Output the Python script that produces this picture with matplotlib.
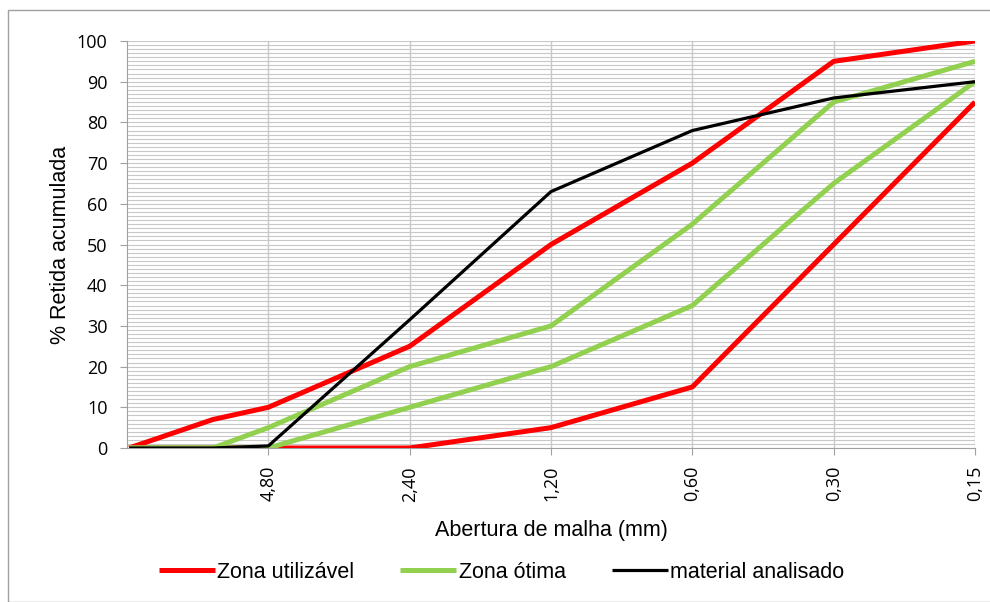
import matplotlib
matplotlib.use("Agg")
import matplotlib.pyplot as plt
from matplotlib.patches import Rectangle
from matplotlib.ticker import FixedLocator, MultipleLocator, NullLocator

sieves = [9.5, 6.3, 4.8, 2.4, 1.2, 0.6, 0.3, 0.15]
tick_values = [4.8, 2.4, 1.2, 0.6, 0.3, 0.15]
tick_labels = ["4,80", "2,40", "1,20", "0,60", "0,30", "0,15"]

util_lower = [0, 0, 0, 0, 5, 15, 50, 85]
util_upper = [0, 7, 10, 25, 50, 70, 95, 100]
otima_lower = [0, 0, 0, 10, 20, 35, 65, 90]
otima_upper = [0, 0, 5, 20, 30, 55, 85, 95]
material = [0, 0, 0.5, 31.5, 63, 78, 86, 90]

fig = plt.figure(figsize=(9.9, 6.02), dpi=100)
ax = fig.add_axes([127/990, 1-448/602, (975-127)/990, (448-41)/602])

red = "#FF0000"
green = "#92D050"
black = "#000000"

ax.plot(sieves, util_lower, color=red, lw=3.6, solid_capstyle="butt", zorder=3, label="Zona utilizável")
ax.plot(sieves, util_upper, color=red, lw=3.6, solid_capstyle="butt", zorder=3)
ax.plot(sieves, otima_lower, color=green, lw=3.6, solid_capstyle="butt", zorder=3, label="Zona ótima")
ax.plot(sieves, otima_upper, color=green, lw=3.6, solid_capstyle="butt", zorder=3)
ax.plot(sieves, material, color=black, lw=2.3, solid_capstyle="butt", zorder=4, label="material analisado")

ax.set_xscale("log")
ax.set_xlim(9.6, 0.15)
ax.set_ylim(0, 100)

ax.xaxis.set_major_locator(FixedLocator(tick_values))
ax.xaxis.set_minor_locator(NullLocator())
ax.set_xticklabels(tick_labels, rotation=90, fontsize=13, family="Open Sans")
ax.yaxis.set_major_locator(MultipleLocator(10))
ax.yaxis.set_minor_locator(MultipleLocator(1))
for lab in ax.get_yticklabels():
    lab.set_family("Open Sans")
    lab.set_fontsize(13)

ax.grid(axis="x", which="major", color="#C8C8C8", lw=1)
ax.grid(axis="y", which="both", color="#C8C8C8", lw=0.8)
ax.set_axisbelow(True)

for s in ["top", "right"]:
    ax.spines[s].set_visible(False)
ax.spines["left"].set_color("#A0A0A0")
ax.spines["bottom"].set_color("#A0A0A0")
ax.tick_params(axis="y", which="major", length=5, color="#A0A0A0", pad=9)
ax.tick_params(axis="y", which="minor", length=0)
ax.tick_params(axis="x", which="major", length=5, color="#A0A0A0", pad=8)

ax.set_xlabel("Abertura de malha (mm)", fontsize=15.5, family="Liberation Sans", labelpad=13)
ax.set_ylabel("% Retida acumulada", fontsize=15.5, family="Liberation Sans", labelpad=4)

leg = fig.legend(loc="center", bbox_to_anchor=(0.5066, 1-572/602), ncol=3, frameon=False,
                 prop={"family": "Liberation Sans", "size": 15.5}, handlelength=2.6,
                 handletextpad=0.1, columnspacing=2.15)

fig.patches.append(Rectangle((8/990, 0.0), 1.0, 1-10/602, transform=fig.transFigure,
                             fill=False, edgecolor="#A0A0A0", lw=1))

fig.savefig("out.png", dpi=100)
